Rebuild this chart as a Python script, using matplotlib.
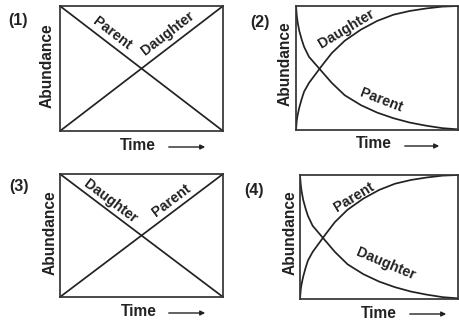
import matplotlib
matplotlib.use("Agg")
import matplotlib.pyplot as plt

plt.rcParams['font.family'] = ['Liberation Sans', 'DejaVu Sans']
plt.rcParams['font.weight'] = 'bold'

W, H = 459, 323

# straight-line panels (1) and (3)
time_lin = [0, 1]
falling_lin = [1, 0]
rising_lin = [0, 1]

# curved panels (2) and (4) (fraction of box height)
time_curve = [0, 0.005, 0.01, 0.02, 0.035, 0.05, 0.08, 0.12, 0.16, 0.22, 0.3,
              0.4, 0.5, 0.6, 0.7, 0.8, 0.9, 1.0]
falling_curve = [1.0, 0.92, 0.87, 0.80, 0.73, 0.67, 0.59, 0.53, 0.47, 0.38, 0.28,
                 0.20, 0.14, 0.095, 0.06, 0.035, 0.015, 0.005]
rising_curve = [0.0, 0.08, 0.12, 0.18, 0.25, 0.31, 0.38, 0.45, 0.52, 0.62, 0.72,
                0.81, 0.88, 0.93, 0.96, 0.98, 0.995, 1.0]

panel_names = ['(1)', '(2)', '(3)', '(4)']
falling_labels = ['Parent', 'Parent', 'Daughter', 'Daughter']
rising_labels = ['Daughter', 'Daughter', 'Parent', 'Parent']

# box edges in pixels: left, right, top, bottom
boxes = [(60, 223, 6, 131), (296, 458.5, 6, 130),
         (60, 223, 174, 297), (300, 458.5, 175, 299)]

ink = '#222222'
fig = plt.figure(figsize=(W / 100, H / 100), dpi=100)


def fx(x):
    return x / W


def fy(y):
    return 1 - y / H


def label(x, y, s, size=11, rot=0):
    fig.text(fx(x), fy(y), s, ha='center', va='center', fontsize=size,
             fontweight='bold', rotation=rot, rotation_mode='anchor', color=ink)


for i, (l, r, t, b) in enumerate(boxes):
    ax = fig.add_axes([fx(l), fy(b), (r - l) / W, (b - t) / H])
    if i in (0, 2):
        ax.plot(time_lin, falling_lin, color=ink, lw=1.25)
        ax.plot(time_lin, rising_lin, color=ink, lw=1.25)
    else:
        ax.plot(time_curve, falling_curve, color=ink, lw=1.25)
        ax.plot(time_curve, rising_curve, color=ink, lw=1.25)
    ax.set_xlim(0, 1)
    ax.set_ylim(0, 1)
    ax.set_xticks([])
    ax.set_yticks([])
    for sp in ax.spines.values():
        sp.set_linewidth(1.25)
        sp.set_color('#333333')

# panel numbers
label(18, 21, panel_names[0], 11.5)
label(260, 22, panel_names[1], 11.5)
label(19, 186, panel_names[2], 11.5)
label(254, 190, panel_names[3], 11.5)

# y labels
label(47, 66, 'Abundance', 11.2, 90)
label(285, 64, 'Abundance', 11.2, 90)
label(50, 233, 'Abundance', 11.2, 90)
label(290, 233, 'Abundance', 11.2, 90)

# x labels with arrows
time_pos = [(138, 146, 166, 208, 147), (374, 144, 402, 442, 146),
            (139, 312, 166, 208, 313), (379, 314, 407, 449, 314)]
for tx, ty, a0, a1, ay in time_pos:
    label(tx, ty, 'Time', 11.2)
    fig.add_artist(matplotlib.patches.FancyArrowPatch(
        (fx(a0), fy(ay)), (fx(a1), fy(ay)), transform=fig.transFigure,
        arrowstyle='-|>', mutation_scale=7, lw=1.0, color=ink))

# curve labels
label(112, 33, falling_labels[0], 10.3, -37.5)
label(168, 33, rising_labels[0], 10.3, 37.5)
label(346, 29, rising_labels[1], 10.3, 31)
label(381, 100, falling_labels[1], 10.3, -21)
label(110, 201, falling_labels[2], 10.3, -37)
label(171, 200, rising_labels[2], 10.3, 37)
label(354, 197, rising_labels[3], 10.3, 31)
label(386, 264, falling_labels[3], 10.3, -23)

fig.savefig('out.png', dpi=100)
